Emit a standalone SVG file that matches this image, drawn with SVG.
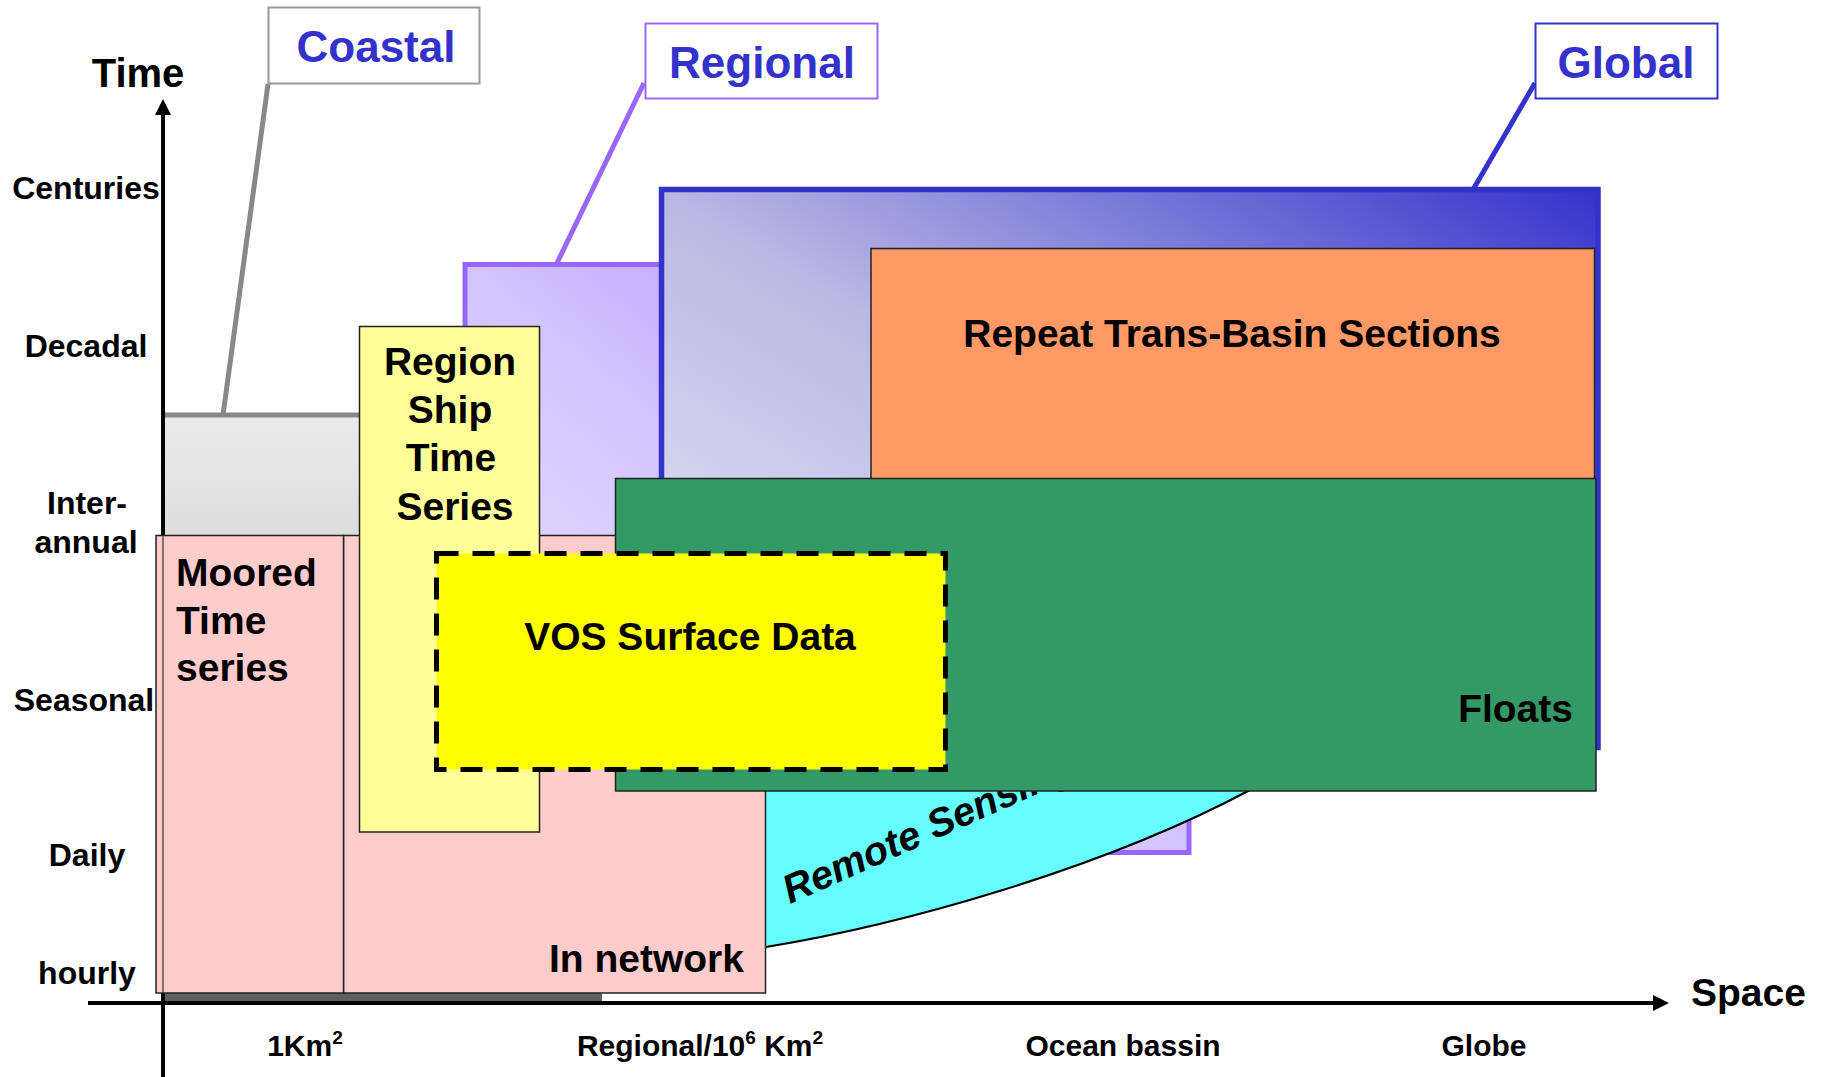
<svg xmlns="http://www.w3.org/2000/svg" width="1830" height="1077" viewBox="0 0 1830 1077">
<style>
text{font-family:"Liberation Sans",Arial,sans-serif;font-weight:bold;fill:#000}
.tick{font-size:32px;text-anchor:middle}
.xl{font-size:30px;text-anchor:middle}
.lbl{font-size:44px;fill:#3333cc;text-anchor:middle}
.big{font-size:39px}
.mid{text-anchor:middle}
.box{stroke:#222;stroke-width:1.5}
</style>
<defs>
<linearGradient id="gGray" x1="0" y1="0" x2="0" y2="1">
<stop offset="0" stop-color="#ebebeb"/><stop offset="0.2" stop-color="#dddddd"/><stop offset="1" stop-color="#5e5e5e"/>
</linearGradient>
<linearGradient id="gPurple" x1="0" y1="1" x2="1" y2="0">
<stop offset="0" stop-color="#f2eeff"/><stop offset="0.5" stop-color="#d2c4ff"/><stop offset="1" stop-color="#a07aff"/>
</linearGradient>
<linearGradient id="gBlue" x1="0" y1="1" x2="1" y2="0">
<stop offset="0" stop-color="#eeeef9"/><stop offset="0.5" stop-color="#b8b8e4"/><stop offset="1" stop-color="#3333cc"/>
</linearGradient>
<marker id="arr" viewBox="0 0 16 16" markerWidth="16" markerHeight="16" refX="0" refY="8" orient="auto" markerUnits="userSpaceOnUse">
<path d="M0,0 L16,8 L0,16 z" fill="#000"/>
</marker>
</defs>

<g id="coastal-region">
<rect x="163" y="415" width="439" height="586" fill="url(#gGray)"/>
<line x1="163" y1="415" x2="602" y2="415" stroke="#888" stroke-width="5"/>
</g>

<g id="axes">
<line x1="163" y1="1077" x2="163" y2="115" stroke="#000" stroke-width="4" marker-end="url(#arr)"/>
<line x1="88" y1="1003" x2="1653" y2="1003" stroke="#000" stroke-width="4" marker-end="url(#arr)"/>
</g>

<g id="regional-region">
<rect x="465" y="264.5" width="724" height="588" fill="url(#gPurple)" stroke="#9966ff" stroke-width="5"/>
</g>

<g id="global-region">
<rect x="661.5" y="189.5" width="936.5" height="558" fill="url(#gBlue)" stroke="#3333cc" stroke-width="5.5"/>
</g>

<g id="connectors" fill="none" stroke-width="5">
<line x1="268" y1="84" x2="223" y2="415" stroke="#888"/>
<line x1="644" y1="83" x2="557" y2="263" stroke="#9966ff"/>
<line x1="1535" y1="83" x2="1474" y2="188" stroke="#3333cc"/>
</g>

<g id="repeat-sections">
<rect x="871" y="248.5" width="723.5" height="232" fill="#ff9966" class="box"/>
<text x="1232" y="347" class="big mid">Repeat Trans-Basin Sections</text>
</g>

<g id="remote-sensing">
<path d="M766,700 L766,947 C900,925 1100,870 1250,790 L1250,700 Z" fill="#66ffff"/>
<path d="M766,947 C900,925 1100,870 1250,790" fill="none" stroke="#000" stroke-width="2"/>
<text transform="translate(790,904) rotate(-24)" font-size="40" font-style="italic">Remote Sensing</text>
</g>

<g id="in-network">
<rect x="343.5" y="535.5" width="422" height="457.5" fill="#ffcccc" class="box"/>
<text x="744" y="972" class="big" text-anchor="end">In network</text>
</g>

<g id="moored-time-series">
<rect x="156" y="535.5" width="187.5" height="457.5" fill="#ffcccc" class="box"/>
<line x1="163" y1="536" x2="163" y2="993" stroke="#333" stroke-width="1.2"/>
<text x="176" y="586" class="big">Moored</text>
<text x="176" y="634" class="big">Time</text>
<text x="176" y="681" class="big">series</text>
</g>

<g id="region-ship-time-series">
<rect x="359.5" y="326.5" width="180" height="505.5" fill="#ffff99" class="box"/>
<text x="450" y="375" class="big mid">Region</text>
<text x="450" y="423" class="big mid">Ship</text>
<text x="451" y="471" class="big mid">Time</text>
<text x="455" y="520" class="big mid">Series</text>
</g>

<g id="floats">
<rect x="615.5" y="478.5" width="980.5" height="312.5" fill="#339966" class="box"/>
<text x="1573" y="722" class="big" text-anchor="end">Floats</text>
</g>

<g id="vos-surface-data">
<rect x="436.5" y="553.5" width="509" height="216" fill="#ffff00" stroke="#000" stroke-width="5" stroke-dasharray="22 14"/>
<text x="690" y="650" class="big mid">VOS Surface Data</text>
</g>

<g id="label-coastal">
<rect x="268.5" y="7.5" width="211" height="76" fill="#fff" stroke="#999" stroke-width="2"/>
<text x="376" y="62" class="lbl">Coastal</text>
</g>
<g id="label-regional">
<rect x="645.5" y="23.5" width="232" height="75" fill="#fff" stroke="#9966ff" stroke-width="2"/>
<text x="762" y="78" class="lbl">Regional</text>
</g>
<g id="label-global">
<rect x="1535.5" y="23.5" width="182" height="75" fill="#fff" stroke="#3333cc" stroke-width="2"/>
<text x="1626" y="78" class="lbl">Global</text>
</g>

<g id="axis-labels">
<text x="138" y="87" font-size="40" class="mid">Time</text>
<text x="1691" y="1006" font-size="39">Space</text>
<text x="86" y="199" class="tick">Centuries</text>
<text x="86" y="357" class="tick">Decadal</text>
<text x="87" y="514" class="tick">Inter-</text>
<text x="86" y="553" class="tick">annual</text>
<text x="84" y="711" class="tick">Seasonal</text>
<text x="87" y="866" class="tick">Daily</text>
<text x="87" y="984" class="tick">hourly</text>
<text x="305" y="1056" class="xl">1Km<tspan font-size="19" dy="-12">2</tspan></text>
<text x="700" y="1056" class="xl">Regional/10<tspan font-size="19" dy="-12">6</tspan><tspan dy="12"> Km</tspan><tspan font-size="19" dy="-12">2</tspan></text>
<text x="1123" y="1056" class="xl">Ocean bassin</text>
<text x="1484" y="1056" class="xl">Globe</text>
</g>
</svg>
